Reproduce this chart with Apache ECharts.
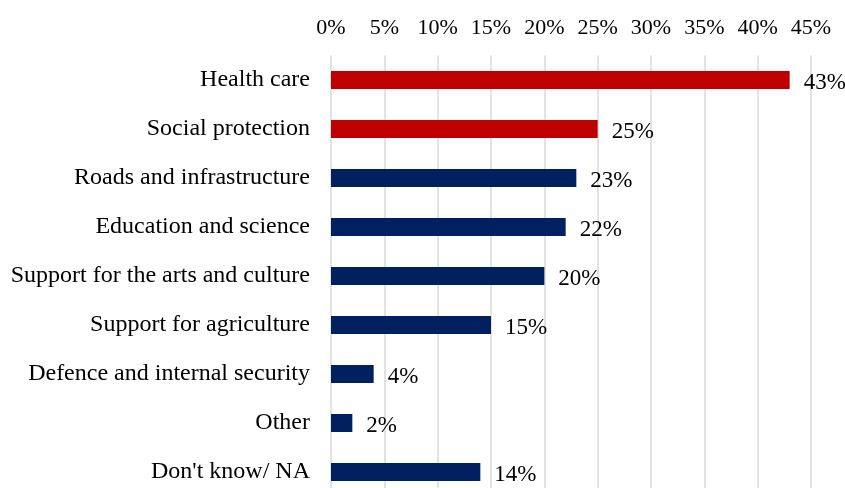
<!DOCTYPE html>
<html>
<head>
<meta charset="utf-8">
<script src="https://cdn.jsdelivr.net/npm/echarts@6/dist/echarts.min.js"></script>
<style>
  html, body { margin: 0; padding: 0; background: #fff; }
  #chart { width: 845px; height: 488px; }
</style>
</head>
<body>
<div id="chart"></div>
<script>
// Spending priorities, share of respondents (%)
const categories = [
  "Health care",
  "Social protection",
  "Roads and infrastructure",
  "Education and science",
  "Support for the arts and culture",
  "Support for agriculture",
  "Defence and internal security",
  "Other",
  "Don't know/ NA"
];
const values = [43, 25, 23, 22, 20, 15, 4, 2, 14];
const highlighted = ["Health care", "Social protection"];
const tickStep = 5;
const axisMax = 45;

const RED = "#C00000";
const NAVY = "#002060";
const FONT = "'Liberation Serif', 'Times New Roman', serif";

const chart = echarts.init(document.getElementById("chart"));
chart.setOption({
  backgroundColor: "#ffffff",
  animation: false,
  grid: {
    left: 331, right: 34, top: 55.5, height: 441,
    containLabel: false,
    outerBoundsMode: "none"
  },
  xAxis: {
    type: "value",
    position: "top",
    min: 0,
    max: axisMax,
    interval: tickStep,
    axisLine: { show: false },
    axisTick: { show: false },
    axisLabel: {
      formatter: v => v + "%",
      color: "#000",
      fontFamily: FONT,
      fontSize: 22,
      margin: 16
    },
    splitLine: { show: true, lineStyle: { color: "#d9d9d9", width: 1.5 } }
  },
  yAxis: {
    type: "category",
    data: categories,
    inverse: true,
    axisLine: { show: false },
    axisTick: { show: false },
    axisLabel: {
      color: "#000",
      fontFamily: FONT,
      fontSize: 24,
      margin: 21
    }
  },
  series: [{
    type: "bar",
    barWidth: 18,
    data: values.map((v, i) => ({
      value: v,
      itemStyle: { color: highlighted.includes(categories[i]) ? RED : NAVY }
    })),
    label: {
      show: true,
      position: "right",
      distance: 14,
      offset: [0, 3],
      formatter: p => p.value + "%",
      color: "#000",
      fontFamily: FONT,
      fontSize: 23
    }
  }]
});
</script>
</body>
</html>
